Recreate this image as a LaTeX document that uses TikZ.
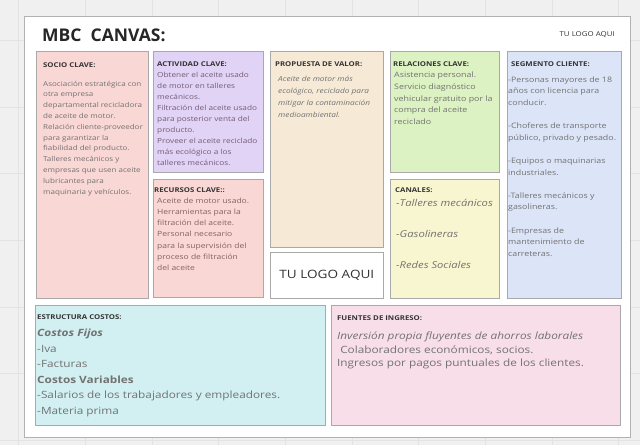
\documentclass[tikz,border=0pt]{standalone}
\usepackage{fontspec}
\setmainfont{Open Sans}[FakeStretch=1.18]
\newfontfamily\titlefont{Open Sans}
\usetikzlibrary{positioning}
\definecolor{paper}{HTML}{F0F0F0}
\definecolor{rejilla}{HTML}{E3E3E3}
\definecolor{edge}{HTML}{A9A9A9}
\definecolor{ink}{HTML}{727272}
\definecolor{rosa}{HTML}{F9D7D5}
\definecolor{lila}{HTML}{E1D3F5}
\definecolor{crema}{HTML}{F6EAD6}
\definecolor{verde}{HTML}{DDF2C2}
\definecolor{amarillo}{HTML}{F8F6D0}
\definecolor{celeste}{HTML}{DCE5F8}
\definecolor{cian}{HTML}{D2F0F2}
\definecolor{fucsia}{HTML}{F8DEE8}
\tikzset{bloque/.style={draw=edge,anchor=north west,inner sep=0pt,line width=.7pt},titulo/.style={anchor=north west,inner sep=0pt,text=black!80,font=\fontsize{6.6}{8}\selectfont\bfseries},cuerpo/.style={anchor=north west,inner sep=0pt,align=left,text=ink}}

\begin{document}
\begin{tikzpicture}[x=1pt,y=-1pt]
\useasboundingbox (0,0) rectangle (640,445);
\fill[paper] (0,0) rectangle (640,445);
\foreach \x in {18,85,152,218,285,352,418,485,552,618}\draw[rejilla] (\x,0)--(\x,445);
\foreach \y in {40,107,173,240,307,373,440}\draw[rejilla] (0,\y)--(640,\y);
\node[bloque,draw=black!30,fill=white,minimum width=606pt,minimum height=421pt] (lienzo) at (24,16) {};
\node[anchor=west,inner sep=0pt,text=black!85,font=\titlefont\fontsize{17.5}{20}\selectfont\bfseries] (titulo) at (42,35) {MBC\ \ CANVAS:};
\node[anchor=east,inner sep=0pt,text=black!80,font=\fontsize{6.7}{8}\selectfont] (logochico) at (615,35) {TU LOGO AQUI};
% fila superior
\node[bloque,fill=rosa,minimum width=112pt,minimum height=247pt] (socio) at (36,51) {};
\node[titulo] (tsocio) at (43,62.7) {SOCIO CLAVE:};
\node[cuerpo,font=\fontsize{6.8}{10.8}\selectfont] (csocio) at (43,80.6) {Asociación estratégica con\\otra empresa\\departamental recicladora\\de aceite de motor.\\Relación cliente-proveedor\\para garantizar la\\fiabilidad del producto.\\Talleres mecánicos y\\empresas que usen aceite\\lubricantes para\\maquinaria y vehículos.};
\node[bloque,fill=lila,minimum width=110pt,minimum height=121pt] (actividad) at (153,51) {};
\node[titulo] (tactividad) at (157,61.7) {ACTIVIDAD CLAVE:};
\node[cuerpo,text=ink!80!violet,font=\fontsize{7}{11}\selectfont] (cactividad) at (157,71.6) {Obtener el aceite usado\\de motor en talleres\\mecánicos.\\Filtración del aceite usado\\para posterior venta del\\producto.\\Proveer el aceite reciclado\\más ecológico a los\\talleres mecánicos.};
\node[bloque,fill=rosa,minimum width=110pt,minimum height=118pt] (recursos) at (153,179) {};
\node[titulo] (trecursos) at (154,187.7) {RECURSOS CLAVE::};
\node[cuerpo,text=ink!85!red,font=\fontsize{7.2}{11.2}\selectfont] (crecursos) at (157,197.6) {Aceite de motor usado.\\Herramientas para la\\filtración del aceite.\\Personal necesario\\para la supervisión del\\proceso de filtración\\del aceite};
\node[bloque,fill=crema,minimum width=113pt,minimum height=196pt] (propuesta) at (270,51) {};
\node[titulo] (tpropuesta) at (275,61.7) {PROPUESTA DE VALOR:};
\node[cuerpo,font=\fontsize{7}{11.9}\selectfont\itshape] (cpropuesta) at (278,76.3) {Aceite de motor más\\ecológico, reciclado para\\mitigar la contaminación\\medioambiental.};
\node[bloque,fill=white,minimum width=113pt,minimum height=46pt] (logo) at (270,252) {};
\node[inner sep=0pt,text=black!80,font=\fontsize{11.5}{14}\selectfont] (tlogo) at (logo.center) {TU LOGO AQUI};
\node[bloque,fill=verde,minimum width=109pt,minimum height=121pt] (relaciones) at (390,51) {};
\node[titulo] (trelaciones) at (393,61.7) {RELACIONES CLAVE:};
\node[cuerpo,font=\fontsize{7.5}{11.9}\selectfont] (crelaciones) at (394,71.3) {Asistencia personal.\\Servicio diagnóstico\\vehicular gratuito por la\\compra del aceite\\reciclado};
\node[bloque,fill=amarillo,minimum width=109pt,minimum height=119pt] (canales) at (390,179) {};
\node[titulo] (tcanales) at (395,187.7) {CANALES:};
\node[cuerpo,font=\fontsize{9.5}{31}\selectfont\itshape] (ccanales) at (396,199.5) {-Talleres mecánicos\\-Gasolineras\\-Redes Sociales};
\node[bloque,fill=celeste,minimum width=114pt,minimum height=247pt] (segmento) at (507,51) {};
\node[titulo] (tsegmento) at (511,61.7) {SEGMENTO CLIENTE:};
\node[cuerpo,font=\fontsize{7.5}{11.6}\selectfont] (csegmento) at (508,76.4) {-Personas mayores de 18\\años con licencia para\\conducir.\\[11.6pt]-Choferes de transporte\\público, privado y pesado.\\[11.6pt]-Equipos o maquinarias\\industriales.\\[11.6pt]-Talleres mecánicos y\\gasolineras.\\[11.6pt]-Empresas de\\mantenimiento de\\carreteras.};
% fila inferior
\node[bloque,fill=cian,minimum width=290pt,minimum height=120pt] (costos) at (35,305) {};
\node[titulo] (tcostos) at (37,314.7) {ESTRUCTURA COSTOS:};
\node[cuerpo,font=\fontsize{10}{15.5}\selectfont] (ccostos) at (37,329) {\textbf{\textit{Costos Fijos}}\\-Iva\\-Facturas\\\textbf{Costos Variables}\\-Salarios de los trabajadores y empleadores.\\-Materia prima};
\node[bloque,fill=fucsia,minimum width=289pt,minimum height=120pt] (fuentes) at (331,305) {};
\node[titulo] (tfuentes) at (337,315.7) {FUENTES DE INGRESO:};
\node[cuerpo,font=\fontsize{10}{13.2}\selectfont] (cfuentes) at (337,332.1) {\textit{Inversión propia fluyentes de ahorros laborales}\\\ Colaboradores económicos, socios.\\Ingresos por pagos puntuales de los clientes.};
\end{tikzpicture}
\end{document}
